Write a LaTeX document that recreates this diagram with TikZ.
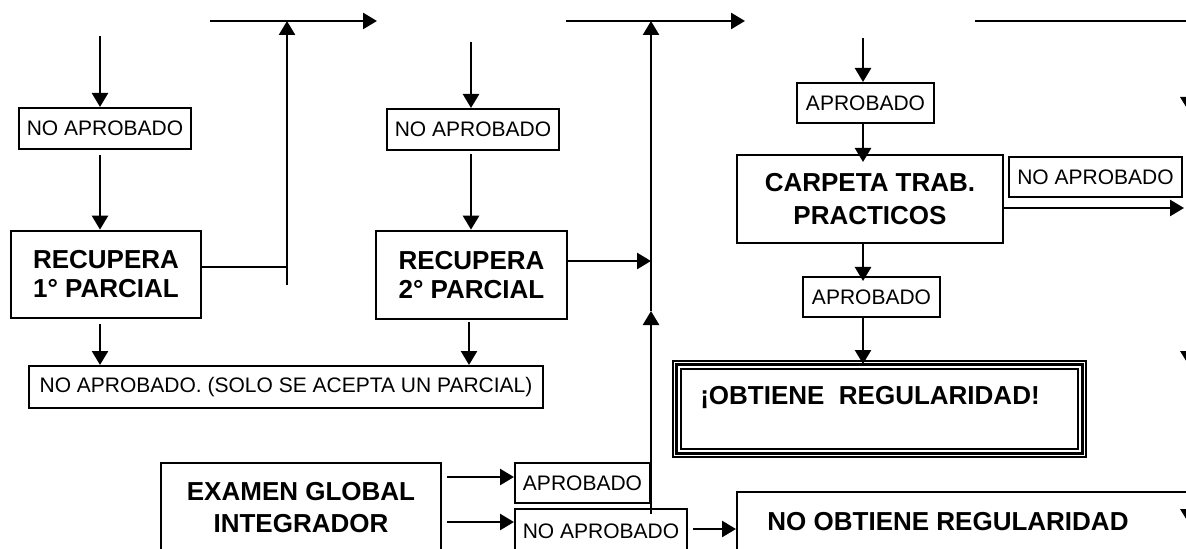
\documentclass[tikz,border=0pt]{standalone}
\usepackage{fontspec}
\setmainfont{Liberation Sans}
\usetikzlibrary{arrows.meta}
\begin{document}
\begin{tikzpicture}[x=0.75pt,y=-0.75pt,
  arr/.style={line width=1.9pt,-{Triangle[length=10.5pt,width=12pt]}},
  ln/.style={line width=1.9pt},
  thinln/.style={line width=1.1pt},
  small/.style={draw,line width=1.5pt,inner sep=0pt,font=\fontsize{15.75}{18}\selectfont},
  big/.style={draw,line width=2pt,inner sep=0pt,align=center,font=\fontsize{19.5}{21.75}\selectfont\bfseries},
  bigtext/.style={inner sep=0pt,font=\fontsize{19.5}{21.75}\selectfont\bfseries},
  tipmark/.style={fill=black}
]
\useasboundingbox (0,0) rectangle (1186,549);
\fill[white] (0,0) rectangle (1186,549);
\clip (0,0) rectangle (1186,549);

% nodes
\node[small,minimum width=129pt,minimum height=30.75pt] (na1) at (105,128.5) {NO APROBADO};
\node[big,minimum width=142.5pt,minimum height=65.25pt] (rec1) at (106,274.5) {RECUPERA\\1° PARCIAL};
\node[small,minimum width=385.5pt,minimum height=31.5pt] (solo) at (286,387) {NO APROBADO. (SOLO SE ACEPTA UN PARCIAL)};
\node[small,minimum width=129pt,minimum height=30.75pt] (na2) at (473,129.5) {NO APROBADO};
\node[big,minimum width=143.25pt,minimum height=66pt] (rec2) at (471.5,275) {RECUPERA\\2° PARCIAL};
\node[small,minimum width=102.75pt,minimum height=30pt] (ap1) at (865.5,103) {APROBADO};
\node[big,line width=1.3pt,minimum width=199.5pt,minimum height=66pt,font=\fontsize{19.5}{24.75}\selectfont\bfseries] (carpeta) at (870,199) {CARPETA TRAB.\\PRACTICOS};
\node[small,line width=1.1pt,minimum width=129.75pt,minimum height=30pt] (na3) at (1095.5,177) {NO APROBADO};
\node[small,minimum width=102.75pt,minimum height=30pt] (ap2) at (871.5,297) {APROBADO};
\node[draw,line width=0.8pt,inner sep=0pt,minimum width=309.75pt,minimum height=72pt] (obt) at (879.5,409) {};
\draw[line width=2.2pt] ([shift={(3.2pt,-3.2pt)}]obt.north west) rectangle ([shift={(-3.2pt,3.2pt)}]obt.south east);
\draw[line width=0.8pt] ([shift={(6.4pt,-6.4pt)}]obt.north west) rectangle ([shift={(-6.4pt,6.4pt)}]obt.south east);
\node[bigtext] (obtT) at (870,397) {¡OBTIENE\ \ REGULARIDAD!};
\node[big,font=\fontsize{19.5}{24}\selectfont\bfseries,minimum width=210pt,minimum height=67.5pt] (exam) at (301,508) {EXAMEN GLOBAL\\INTEGRADOR};
\node[small,minimum width=101.25pt,minimum height=30pt] (apG) at (582.5,483) {APROBADO};
\node[small,minimum width=129pt,minimum height=33pt] (naG) at (601,531) {NO APROBADO};
\node[draw,line width=1.5pt,inner sep=0pt,minimum width=347.25pt,minimum height=51pt] (noobt) at (968.5,526) {};
\node[bigtext] (noobtT) at (948,522) {NO OBTIENE REGULARIDAD};

% column 1
\coordinate (a1) at (100,36);
\draw[arr] (a1) -- (a1 |- na1.north);
\coordinate (a2) at (100,155);
\draw[arr] (a2) -- (a2 |- rec1.north);
\coordinate (a3) at (100,324);
\draw[arr] (a3) -- (a3 |- solo.north);
\coordinate (j1) at (287,267);
\draw[ln] (rec1.east |- j1) -- (j1);
\coordinate (v1) at (287,285);
\coordinate (t1a) at (210,21);
\coordinate (t1b) at (377,21);
\draw[arr] (v1) -- (v1 |- t1a);
\draw[arr] (t1a) -- (t1b);

% column 2
\coordinate (b1) at (471,42);
\draw[arr] (b1) -- (b1 |- na2.north);
\coordinate (b2) at (471,154);
\draw[arr] (b2) -- (b2 |- rec2.north);
\coordinate (b3) at (469,322);
\draw[arr] (b3) -- (b3 |- solo.north);
\coordinate (m) at (651,261);
\draw[arr] (rec2.east |- m) -- (m);
\coordinate (vb) at (651,514);
\coordinate (vm) at (651,311);
\coordinate (t2a) at (566,21);
\coordinate (t2b) at (745,21);
\draw[arr] (vb) -- (vm);
\draw[arr] (vm) -- (vm |- t2a);
\draw[arr] (t2a) -- (t2b);

% column 3
\coordinate (t3a) at (975,21);
\coordinate (t3b) at (1195,21);
\draw[thinln] (t3a) -- (t3b);
\coordinate (c1) at (863,38);
\draw[arr] (c1) -- (c1 |- ap1.north);
\coordinate (c2) at (863,162);
\draw[arr] (ap1.south -| c2) -- (c2);
\coordinate (c3) at (863,281);
\draw[arr] (carpeta.south -| c3) -- (c3);
\coordinate (c4) at (863,364);
\draw[arr] (ap2.south -| c4) -- (c4);
\coordinate (r1) at (1184,208);
\draw[arr] (carpeta.east |- r1) -- (r1);

% bottom
\coordinate (e1) at (447,477);
\draw[arr] (e1) -- (e1 -| apG.west);
\coordinate (e2) at (447,522);
\draw[arr] (e2) -- (e2 -| naG.west);
\coordinate (e3) at (693,529);
\draw[arr] (e3) -- (e3 -| noobt.west);

% arrow tips at right edge
\fill[tipmark] (1180,97) -- (1196,97) -- (1188,110) -- cycle;
\fill[tipmark] (1180,351) -- (1196,351) -- (1188,364) -- cycle;
\fill[tipmark] (1180,509) -- (1196,509) -- (1188,522) -- cycle;
\end{tikzpicture}
\end{document}
